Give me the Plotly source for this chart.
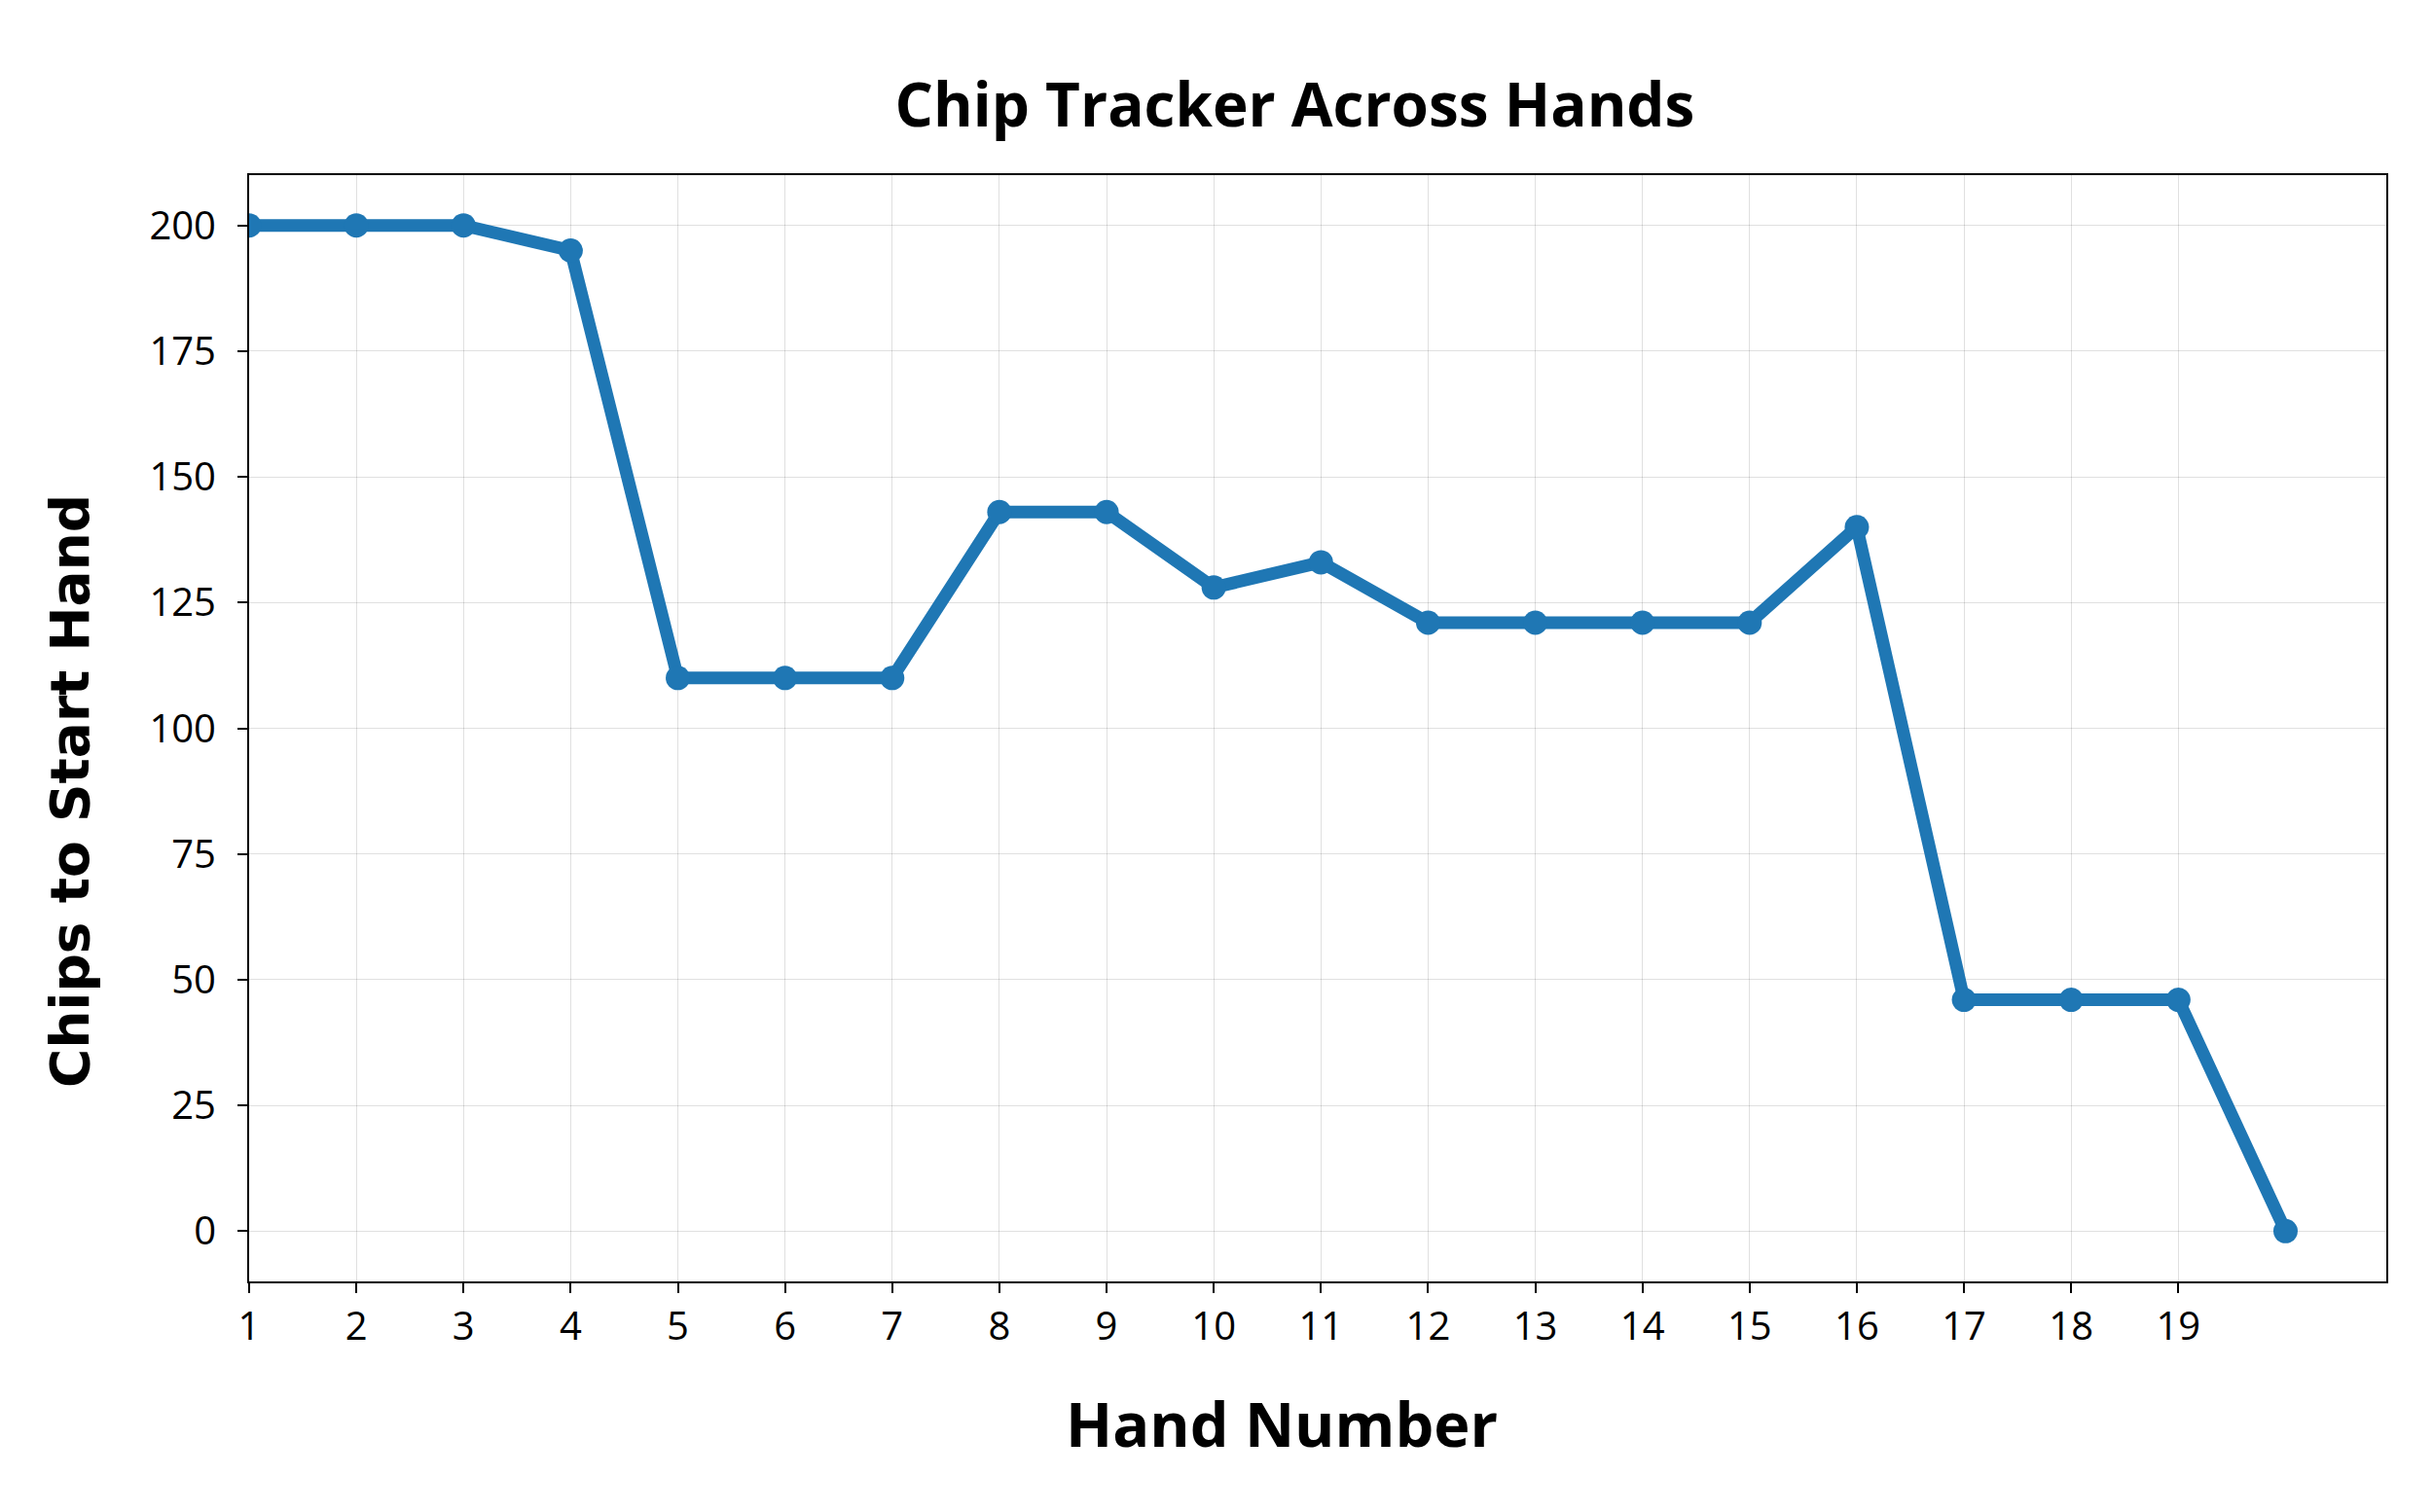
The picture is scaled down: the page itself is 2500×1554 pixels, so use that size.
import plotly.graph_objects as go

# Chip counts at the start of each hand
hands = list(range(1, 21))
chips = [200, 200, 200, 195, 110, 110, 110, 143, 143, 128,
         133, 121, 121, 121, 121, 140, 46, 46, 46, 0]

x_ticks = list(range(1, 20))
y_ticks = [0, 25, 50, 75, 100, 125, 150, 175, 200]

LINE_COLOR = '#1f77b4'
GRID_COLOR = 'rgba(0,0,0,0.12)'

fig = go.Figure()

fig.add_trace(go.Scatter(
    x=hands,
    y=chips,
    mode='lines+markers',
    line=dict(color=LINE_COLOR, width=13),
    marker=dict(size=25, color=LINE_COLOR),
    showlegend=False
))

axis_common = dict(
    showgrid=True,
    gridcolor=GRID_COLOR,
    gridwidth=1,
    zeroline=False,
    showline=True,
    linecolor='black',
    linewidth=2,
    mirror=True,
    ticks='outside',
    ticklen=10,
    tickwidth=2,
    tickcolor='black',
    tickfont=dict(family='Open Sans', size=40, color='black'),
)

fig.update_layout(
    width=2500,
    height=1554,
    paper_bgcolor='white',
    plot_bgcolor='white',
    margin=dict(l=248, r=56, t=172, b=245),
    title=dict(
        text='<b>Chip Tracker Across Hands</b>',
        x=0.529,
        xref='container',
        xanchor='center',
        y=1 - 100 / 1554,
        yanchor='middle',
        font=dict(family='Open Sans', size=62, color='black')
    ),
    xaxis=dict(
        **axis_common,
        range=[1, 20.94],
        tickvals=x_ticks,
    ),
    yaxis=dict(
        **axis_common,
        range=[-10, 210],
        tickvals=y_ticks,
        ticklabelstandoff=14,
    ),
)

# axis titles placed as annotations (they sit off-centre in the original)
fig.add_annotation(
    text='<b>Hand Number</b>', xref='paper', yref='paper',
    x=0.483, y=-0.1276, xanchor='center', yanchor='middle',
    showarrow=False, font=dict(family='Open Sans', size=63, color='black')
)
fig.add_annotation(
    text='<b>Chips to Start Hand</b>', xref='paper', yref='paper',
    x=-0.0835, y=0.443, xanchor='center', yanchor='middle', textangle=-90,
    showarrow=False, font=dict(family='DejaVu Sans', size=55, color='black')
)

fig.write_html("out.html")
